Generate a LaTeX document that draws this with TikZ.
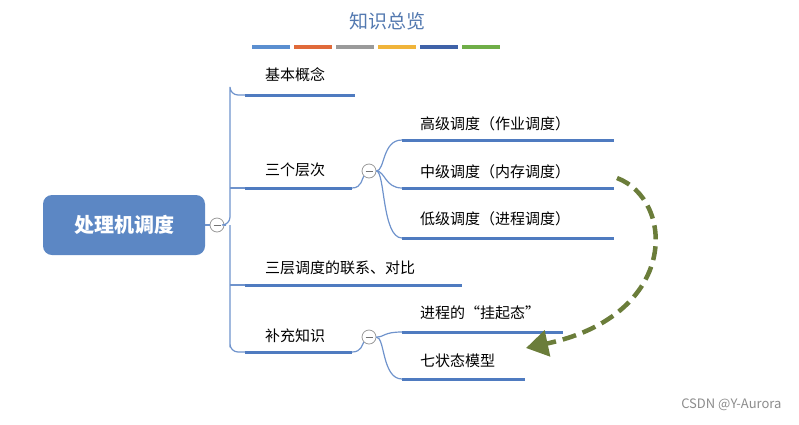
\documentclass[tikz,border=0pt]{standalone}
\usepackage{fontspec}
\setmainfont{Noto Sans CJK SC}
\usetikzlibrary{arrows.meta}
\definecolor{treeline}{HTML}{6F93CC}
\definecolor{uline}{HTML}{4F7BC0}
\definecolor{rootc}{HTML}{5C87C4}
\definecolor{arrowc}{HTML}{6B7D3A}
\tikzset{
 lbl/.style={anchor=west,font=\fontsize{15}{18}\selectfont,inner sep=0pt},
 tree/.style={draw=treeline,line width=1.2pt},
 under/.style={draw=uline,line width=3pt},
 minus/.style={circle,draw=gray!80,line width=0.8pt,fill=white,minimum size=14pt,inner sep=0pt,
   path picture={\draw[gray!90!black,line width=1pt] ([xshift=-3.5pt]path picture bounding box.center) -- ([xshift=3.5pt]path picture bounding box.center);}},
 bar/.style={line width=3.5pt}
}
\begin{document}
\begin{tikzpicture}[x=1pt,y=-1pt]
\useasboundingbox (0,0) rectangle (799,424);
\node[text=rootc!90!black,font=\fontsize{19}{21}\selectfont] (title) at (387,21) {知识总览};
\foreach \c/\x in {5B8FD0/252,E06A3A/294,9A9A9A/336,F0B43A/378,3F62A8/420,6FAE48/462}{
 \definecolor{tmp}{HTML}{\c}\draw[bar,tmp] (\x,47) -- (\x+38,47);}
\node[rounded corners=9pt,fill=rootc,minimum width=162pt,minimum height=60pt,text=white,font=\fontsize{20}{22}\selectfont\bfseries] (root) at (124,225) {处理机调度};
\node[minus] (m0) at (217,225) {};
\coordinate (a1) at (230,95);\coordinate (a2) at (230,188);\coordinate (a3) at (230,285);\coordinate (a4) at (230,352);
\draw[tree] (root.east) -- (m0.west);
\draw[tree] (m0.east) -- (226,225);
\draw[tree,rounded corners=8pt] (226,225) -- (230,225) |- (a1) -- (245,95);
\draw[tree,rounded corners=8pt] (230,225) |- (a4) -- (245,352);
\draw[tree] (a2) -- (245,188);
\draw[tree] (a3) -- (245,285);
\node[lbl] (b1) at (265,75) {基本概念};
\node[lbl] (b2) at (265,170) {三个层次};
\node[lbl] (b3) at (265,268) {三层调度的联系、对比};
\node[lbl] (b4) at (265,336) {补充知识};
\draw[under] (245,95) -- (355,95);
\draw[under] (245,188) -- (352,188);
\draw[under] (245,285) -- (462,285);
\draw[under] (245,352) -- (352,352);
\node[minus] (m1) at (369,171) {};
\draw[tree] (352,188) .. controls (362,188) and (362,178) .. (m1.south west);
\draw[tree] (m1.east) .. controls (385,171) and (382,140) .. (402,140);
\draw[tree] (m1.east) .. controls (385,171) and (385,188) .. (402,188);
\draw[tree] (m1.east) .. controls (385,171) and (382,238) .. (402,238);
\node[lbl] (c1) at (420,124) {高级调度（作业调度）};
\node[lbl] (c2) at (420,172) {中级调度（内存调度）};
\node[lbl] (c3) at (420,219) {低级调度（进程调度）};
\draw[under] (402,140) -- (614,140);
\draw[under] (402,188) -- (614,188);
\draw[under] (402,238) -- (614,238);
\node[minus] (m2) at (369,337) {};
\draw[tree] (352,352) .. controls (362,352) and (362,344) .. (m2.south west);
\draw[tree] (m2.east) .. controls (385,337) and (383,332) .. (402,332);
\draw[tree] (m2.east) .. controls (385,337) and (382,379) .. (402,379);
\node[lbl] (d1) at (420,313) {进程的“挂起态”};
\node[lbl] (d2) at (420,361) {七状态模型};
\draw[under] (402,332) -- (563,332);
\draw[under] (402,379) -- (525,379);
\coordinate (s) at (617,178);\coordinate (e) at (526,348);
\draw[arrowc,line width=4.5pt,dash pattern=on 14pt off 7pt,-{Triangle[length=22pt,width=26pt]}] (s) .. controls (675,200) and (680,315) .. (e);
\node[text=gray!90,font=\fontsize{13}{15}\selectfont,anchor=east] (wm) at (785,405) {CSDN @Y-Aurora};
\end{tikzpicture}
\end{document}
